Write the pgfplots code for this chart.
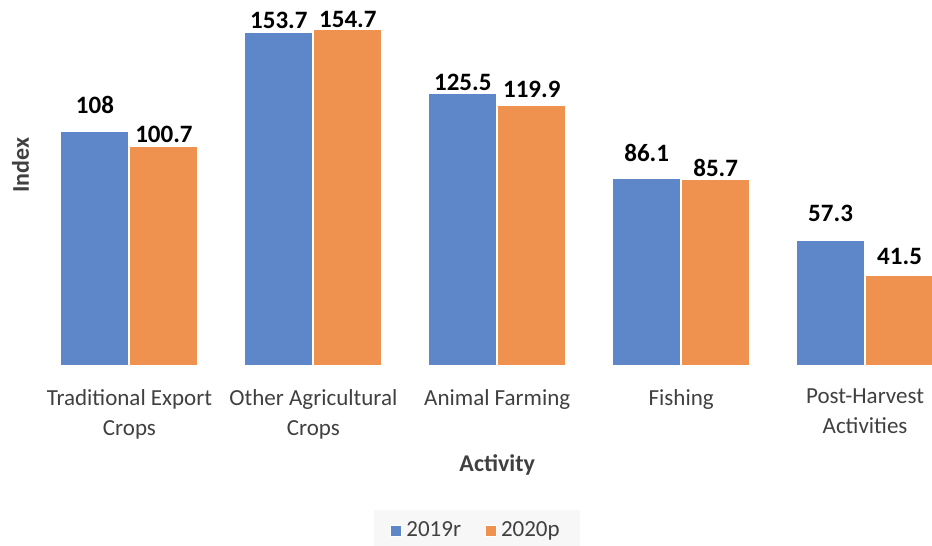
\documentclass[border=0pt]{standalone}
\usepackage{fontspec}
\setmainfont{Carlito}
\usepackage{pgfplots}
\pgfplotsset{compat=1.18}
\usepackage{pgfplotstable}

\definecolor{barblue}{HTML}{5E87CA}
\definecolor{barorange}{HTML}{EF914F}
\definecolor{txtgray}{HTML}{404040}

% x = category, y = index, dy = label lift above the bar (pt)
\pgfplotstableread{
x y dy
0 108 8.5
1 153.7 1.5
2 125.5 1
3 86.1 8
4 57.3 9.5
}\tblA
\pgfplotstableread{
x y dy
0 100.7 2
1 154.7 1
2 119.9 3.5
3 85.7 1
4 41.5 5
}\tblB

\begin{document}
\begin{tikzpicture}
\begin{axis}[
  scale only axis,
  width=459.75pt, height=173.3pt,
  xmin=-0.5, xmax=4.5,
  ymin=0, ymax=160,
  clip=false,
  ybar=0.5pt, bar width=34pt,
  axis line style={draw=none},
  ytick=\empty,
  xtick={0,1,2,3,4},
  xtick style={draw=none},
  major tick length=0pt,
  xticklabels={{Traditional Export\\Crops},{Other Agricultural\\Crops},{Animal Farming},{Fishing},{Post-Harvest\\Activities}},
  xticklabel style={align=center, text=txtgray, font=\fontsize{11.5}{15}\selectfont, yshift=-8.5pt},
  xlabel={Activity},
  ylabel={Index},
  xlabel style={at={(axis description cs:0.5,-0.2885)}, anchor=center, font=\fontsize{12}{14}\selectfont\bfseries, text=txtgray},
  ylabel style={at={(axis description cs:-0.0185,0.577)}, anchor=center, font=\fontsize{12}{14}\selectfont\bfseries, text=txtgray},
  /pgf/number format/assume math mode=true,
  nodes near coords,
  visualization depends on={\thisrow{dy} \as \dy},
  every node near coord/.append style={font=\fontsize{12.5}{14}\selectfont\bfseries, text=black, inner sep=0pt, anchor=south, yshift=\dy pt},
  legend style={at={(axis description cs:0.478,-0.479)}, anchor=center, legend columns=2,
    fill=black!3, draw=none, font=\fontsize{11.5}{14}\selectfont, text=txtgray,
    /tikz/every even column/.append style={column sep=10pt}, inner xsep=8pt, inner ysep=4pt},
  legend image code/.code={\fill[#1] (0pt,-2.75pt) rectangle (5.5pt,2.75pt);},
]
\addplot[fill=barblue, draw=white, line width=0.5pt] table[x=x, y=y] {\tblA};
\addplot[fill=barorange, draw=white, line width=0.5pt] table[x=x, y=y] {\tblB};
\legend{2019r, 2020p}
\coordinate (bbl) at (axis description cs:-0.0408,-0.5222);
\coordinate (btr) at (axis description cs:0.9728,1.0531);
\end{axis}
\pgfresetboundingbox
\useasboundingbox (bbl) rectangle (btr);
\end{tikzpicture}
\end{document}
